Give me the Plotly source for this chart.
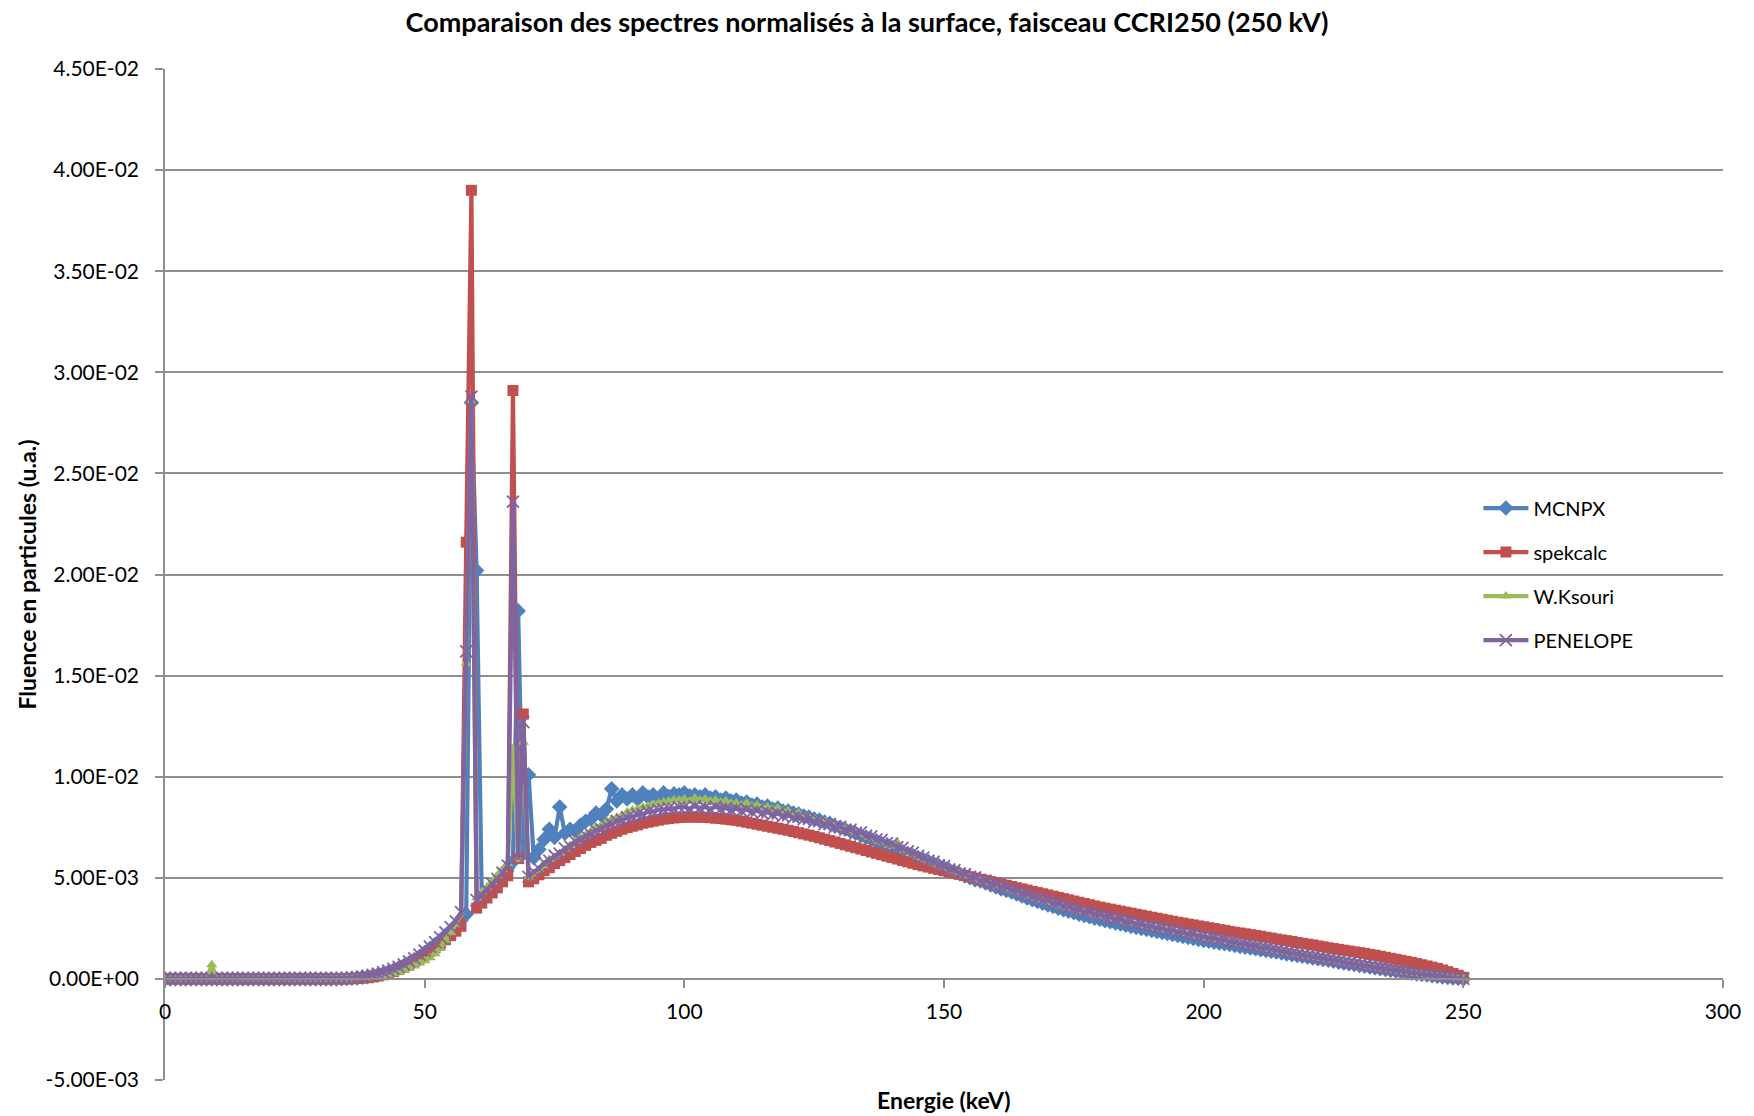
"""
Comparaison des spectres normalisés à la surface - faisceau CCRI250 (250 kV)
"""

import plotly.graph_objects as go

# Energie des canaux (keV), pas de 1 keV
energie_kev = list(range(0, 251))

# Fluence en particules (u.a.), valeurs en unités de 1E-03, lues canal par canal
mcnpx = [
    0, 0, 0, 0, 0, 0, 0, 0, 0, 0,
    0, 0, 0, 0, 0, 0, 0, 0, 0, 0,
    0, 0, 0, 0, 0, 0, 0, 0, 0, 0,
    0, 0, 0, 0, 0.01, 0.02, 0.03, 0.05, 0.08, 0.11,
    0.15, 0.2, 0.27, 0.35, 0.44, 0.55, 0.66, 0.8, 0.95, 1.1,
    1.3, 1.5, 1.7, 1.92, 2.15, 2.4, 2.65, 2.9, 3.2, 28.5,
    20.2, 3.9, 4.3, 4.6, 4.9, 5.2, 5.5, 5.8, 18.2, 6.2,
    10.1, 6.0, 6.4, 6.9, 7.4, 7.0, 8.5, 7.2, 7.4, 7.3,
    7.6, 7.8, 7.9, 8.2, 8.1, 8.4, 9.4, 8.8, 9.1, 8.9,
    9.1, 8.9, 9.2, 9.0, 9.1, 8.95, 9.2, 9.0, 9.15, 9.1,
    9.2, 9.05, 9.1, 9.0, 9.1, 8.95, 9.0, 8.85, 8.95, 8.8,
    8.85, 8.7, 8.75, 8.6, 8.65, 8.5, 8.55, 8.4, 8.45, 8.3,
    8.3, 8.2, 8.15, 8.05, 8.0, 7.9, 7.85, 7.75, 7.7, 7.55,
    7.5, 7.4, 7.3, 7.2, 7.1, 7.0, 6.9, 6.8, 6.7, 6.6,
    6.5, 6.4, 6.3, 6.2, 6.1, 6.0, 5.9, 5.8, 5.7, 5.6,
    5.5, 5.4, 5.3, 5.2, 5.1, 5.0, 4.9, 4.85, 4.75, 4.65,
    4.55, 4.45, 4.38, 4.3, 4.2, 4.1, 4.0, 3.92, 3.83, 3.75,
    3.66, 3.58, 3.5, 3.42, 3.35, 3.28, 3.2, 3.14, 3.07, 3.0,
    2.95, 2.88, 2.83, 2.77, 2.72, 2.66, 2.6, 2.55, 2.5, 2.45,
    2.4, 2.35, 2.3, 2.25, 2.2, 2.15, 2.1, 2.05, 2.0, 1.95,
    1.9, 1.86, 1.82, 1.78, 1.74, 1.7, 1.65, 1.61, 1.57, 1.53,
    1.49, 1.45, 1.41, 1.37, 1.33, 1.28, 1.24, 1.2, 1.16, 1.12,
    1.08, 1.04, 1.0, 0.96, 0.92, 0.87, 0.83, 0.79, 0.75, 0.71,
    0.67, 0.63, 0.59, 0.55, 0.51, 0.47, 0.43, 0.39, 0.35, 0.31,
    0.28, 0.25, 0.22, 0.19, 0.16, 0.13, 0.1, 0.07, 0.05, 0.03,
    0.0,
]

spekcalc = [
    0, 0, 0, 0, 0, 0, 0, 0, 0, 0,
    0, 0, 0, 0, 0, 0, 0, 0, 0, 0,
    0, 0, 0, 0, 0, 0, 0, 0, 0, 0,
    0, 0, 0, 0, 0, 0, 0.01, 0.02, 0.04, 0.06,
    0.1, 0.14, 0.2, 0.27, 0.36, 0.46, 0.58, 0.72, 0.86, 1.02,
    1.18, 1.36, 1.54, 1.74, 1.94, 2.14, 2.36, 2.6, 21.6, 39.0,
    3.5, 3.75, 4.0, 4.25, 4.5, 4.8, 5.1, 29.1, 5.95, 13.1,
    4.8, 4.95, 5.15, 5.35, 5.5, 5.7, 5.85, 6.0, 6.15, 6.3,
    6.45, 6.6, 6.75, 6.85, 6.95, 7.1, 7.2, 7.3, 7.4, 7.48,
    7.55, 7.62, 7.7, 7.75, 7.8, 7.85, 7.9, 7.93, 7.96, 7.98,
    8.0, 8.0, 8.0, 8.0, 7.99, 7.97, 7.95, 7.93, 7.9, 7.87,
    7.84, 7.8, 7.75, 7.7, 7.65, 7.6, 7.55, 7.5, 7.45, 7.4,
    7.35, 7.29, 7.23, 7.17, 7.11, 7.05, 6.98, 6.91, 6.84, 6.77,
    6.7, 6.63, 6.56, 6.49, 6.42, 6.35, 6.28, 6.21, 6.14, 6.07,
    6.0, 5.93, 5.86, 5.79, 5.72, 5.65, 5.59, 5.53, 5.47, 5.41,
    5.35, 5.29, 5.23, 5.17, 5.11, 5.05, 4.99, 4.93, 4.87, 4.81,
    4.75, 4.69, 4.63, 4.57, 4.51, 4.45, 4.39, 4.33, 4.27, 4.21,
    4.15, 4.09, 4.03, 3.97, 3.91, 3.85, 3.79, 3.73, 3.67, 3.61,
    3.55, 3.5, 3.45, 3.4, 3.35, 3.3, 3.25, 3.2, 3.15, 3.1,
    3.05, 3.0, 2.95, 2.9, 2.85, 2.8, 2.76, 2.71, 2.67, 2.62,
    2.58, 2.53, 2.49, 2.44, 2.4, 2.35, 2.31, 2.27, 2.23, 2.19,
    2.15, 2.11, 2.06, 2.02, 1.97, 1.93, 1.89, 1.85, 1.8, 1.76,
    1.72, 1.68, 1.63, 1.59, 1.54, 1.5, 1.46, 1.42, 1.38, 1.34,
    1.3, 1.26, 1.21, 1.17, 1.12, 1.07, 1.02, 0.97, 0.92, 0.87,
    0.82, 0.76, 0.7, 0.64, 0.58, 0.52, 0.44, 0.36, 0.27, 0.18,
    0.08,
]

w_ksouri = [
    0, 0, 0, 0, 0, 0, 0, 0, 0, 0.7,
    0, 0, 0, 0, 0, 0, 0, 0, 0, 0,
    0, 0, 0, 0, 0, 0, 0, 0, 0, 0,
    0, 0, 0, 0, 0, 0, 0, 0.01, 0.03, 0.05,
    0.08, 0.11, 0.15, 0.2, 0.26, 0.33, 0.42, 0.52, 0.64, 0.77,
    0.9, 1.05, 1.25, 1.5, 1.9, 2.3, 2.7, 3.2, 15.6, 28.6,
    4.0, 4.3, 4.55, 4.8, 5.1, 5.4, 5.7, 11.4, 5.9, 11.7,
    5.0, 5.2, 5.4, 5.6, 5.9, 6.0, 6.2, 6.4, 6.6, 6.8,
    7.0, 7.1, 7.3, 7.5, 7.6, 7.8, 7.9, 8.0, 8.1, 8.25,
    8.35, 8.4, 8.5, 8.55, 8.65, 8.7, 8.75, 8.8, 8.85, 8.85,
    8.9, 8.8, 8.95, 8.85, 8.9, 8.8, 8.85, 8.75, 8.8, 8.7,
    8.7, 8.6, 8.7, 8.55, 8.6, 8.45, 8.5, 8.4, 8.45, 8.3,
    8.3, 8.15, 8.2, 8.05, 8.0, 7.95, 7.8, 7.85, 7.65, 7.6,
    7.45, 7.5, 7.3, 7.2, 7.15, 7.0, 6.95, 6.8, 6.75, 6.6,
    6.55, 6.75, 6.35, 6.2, 6.15, 6.0, 5.9, 5.85, 5.7, 5.65,
    5.5, 5.45, 5.3, 5.25, 5.1, 5.05, 4.95, 4.85, 4.8, 4.7,
    4.6, 4.55, 4.45, 4.35, 4.3, 4.2, 4.1, 4.05, 3.95, 3.85,
    3.78, 3.7, 3.62, 3.55, 3.48, 3.42, 3.34, 3.28, 3.22, 3.15,
    3.1, 3.03, 2.98, 2.92, 2.86, 2.8, 2.75, 2.7, 2.64, 2.59,
    2.54, 2.49, 2.44, 2.39, 2.34, 2.29, 2.24, 2.19, 2.14, 2.09,
    2.04, 1.99, 1.94, 1.9, 1.85, 1.8, 1.75, 1.71, 1.66, 1.61,
    1.56, 1.52, 1.47, 1.43, 1.38, 1.34, 1.29, 1.25, 1.2, 1.16,
    1.12, 1.07, 1.03, 0.99, 0.94, 0.9, 0.86, 0.81, 0.77, 0.73,
    0.69, 0.65, 0.61, 0.57, 0.53, 0.49, 0.45, 0.41, 0.37, 0.34,
    0.3, 0.27, 0.24, 0.21, 0.18, 0.15, 0.12, 0.09, 0.06, 0.04,
    0.01,
]

penelope = [
    0, 0, 0, 0, 0, 0, 0, 0, 0, 0,
    0, 0, 0, 0, 0, 0, 0, 0, 0, 0,
    0, 0, 0, 0, 0, 0, 0, 0, 0, 0,
    0, 0, 0, 0.01, 0.02, 0.03, 0.05, 0.08, 0.11, 0.15,
    0.2, 0.26, 0.33, 0.41, 0.5, 0.6, 0.72, 0.86, 1.02, 1.2,
    1.4, 1.6, 1.82, 2.05, 2.3, 2.56, 2.84, 3.3, 16.2, 28.8,
    3.9, 4.15, 4.4, 4.7, 4.95, 5.25, 5.6, 23.6, 6.0, 12.7,
    5.05, 5.3, 5.45, 5.75, 5.85, 6.1, 6.2, 6.45, 6.55, 6.8,
    6.85, 7.1, 7.15, 7.35, 7.4, 7.6, 7.65, 7.8, 7.85, 7.98,
    8.02, 8.12, 8.15, 8.26, 8.28, 8.36, 8.38, 8.44, 8.42, 8.5,
    8.5, 8.42, 8.55, 8.45, 8.5, 8.4, 8.52, 8.4, 8.45, 8.35,
    8.42, 8.3, 8.38, 8.25, 8.32, 8.2, 8.25, 8.12, 8.18, 8.05,
    8.1, 7.98, 8.02, 7.9, 7.92, 7.78, 7.8, 7.65, 7.66, 7.52,
    7.52, 7.38, 7.38, 7.22, 7.25, 7.08, 7.05, 6.9, 6.88, 6.72,
    6.7, 6.52, 6.48, 6.3, 6.25, 6.08, 6.0, 5.85, 5.8, 5.62,
    5.58, 5.42, 5.38, 5.22, 5.18, 5.05, 5.02, 4.88, 4.86, 4.72,
    4.7, 4.56, 4.54, 4.4, 4.36, 4.24, 4.2, 4.08, 4.02, 3.9,
    3.88, 3.76, 3.72, 3.6, 3.56, 3.46, 3.42, 3.32, 3.3, 3.2,
    3.18, 3.08, 3.06, 2.96, 2.94, 2.84, 2.82, 2.72, 2.7, 2.62,
    2.6, 2.52, 2.5, 2.42, 2.4, 2.32, 2.3, 2.22, 2.2, 2.12,
    2.1, 2.03, 2.01, 1.94, 1.92, 1.84, 1.82, 1.75, 1.72, 1.65,
    1.62, 1.55, 1.52, 1.46, 1.42, 1.36, 1.32, 1.27, 1.23, 1.18,
    1.14, 1.09, 1.05, 1.0, 0.96, 0.91, 0.87, 0.82, 0.78, 0.73,
    0.69, 0.65, 0.61, 0.57, 0.53, 0.49, 0.45, 0.41, 0.37, 0.33,
    0.3, 0.27, 0.24, 0.21, 0.18, 0.15, 0.12, 0.09, 0.06, 0.03,
    0.0,
]

# Graduations de l'axe des ordonnées (unités 1E-03) et leurs libellés
y_ticks = [-5, 0, 5, 10, 15, 20, 25, 30, 35, 40, 45]
y_tick_labels = ['-5.00E-03', '0.00E+00', '5.00E-03', '1.00E-02', '1.50E-02',
                 '2.00E-02', '2.50E-02', '3.00E-02', '3.50E-02', '4.00E-02', '4.50E-02']
x_ticks = [0, 50, 100, 150, 200, 250, 300]


def create_spectra_chart():
    """Courbes des quatre spectres normalisés"""

    font_family = 'Lato, "Open Sans", sans-serif'
    grid_color = '#8e8e8e'

    series = [
        ('MCNPX', mcnpx, '#4F81BD', 'diamond', 12),
        ('spekcalc', spekcalc, '#C0504D', 'square', 11),
        ('W.Ksouri', w_ksouri, '#9BBB59', 'triangle-up', 10),
        ('PENELOPE', penelope, '#8064A2', 'x-thin', 12),
    ]

    fig = go.Figure()

    for name, values, color, symbol, size in series:
        marker = dict(symbol=symbol, size=size, color=color)
        if symbol == 'x-thin':
            marker['line'] = dict(color=color, width=1.8)
        fig.add_trace(
            go.Scatter(
                x=energie_kev,
                y=values,
                mode='lines+markers',
                name=name,
                legendgroup=name,
                line=dict(color=color, width=4.2),
                marker=marker
            )
        )

    # page body has an 8px margin, so the figure is 8px smaller than the window
    plot_h = 1011

    fig.update_layout(
        width=1746,
        height=1108,
        paper_bgcolor='white',
        plot_bgcolor='white',
        font=dict(family=font_family, size=20, color='#000000'),
        margin=dict(l=157, r=31, t=61, b=36),
        title=dict(
            text='<b>Comparaison des spectres normalisés à la surface, faisceau CCRI250 (250 kV)</b>',
            x=0.492,
            xref='container',
            xanchor='center',
            y=1 - 15 / 1108,
            yref='container',
            yanchor='middle',
            font=dict(size=27)
        ),
        showlegend=True,
        legend=dict(
            x=0.843,
            y=0.585,
            xanchor='left',
            yanchor='top',
            traceorder='grouped',
            tracegroupgap=15,
            itemwidth=45,
            bgcolor='rgba(0,0,0,0)',
            font=dict(size=20)
        ),
        annotations=[
            dict(
                text='<b>Energie (keV)</b>',
                x=0.5, xref='paper',
                y=-20 / plot_h, yref='paper',
                xanchor='center',
                yanchor='middle',
                showarrow=False,
                font=dict(size=23)
            ),
            dict(
                text='<b>Fluence en particules (u.a.)</b>',
                x=-0.0886, xref='paper',
                y=0.5, yref='paper',
                textangle=-90,
                showarrow=False,
                xanchor='center',
                yanchor='middle',
                font=dict(size=23)
            )
        ]
    )

    # Axe des abscisses croisant l'ordonnée à 0 (position relative dans le domaine y)
    fig.update_xaxes(
        range=[0, 300],
        tickvals=x_ticks,
        ticks='outside',
        ticklen=8,
        tickcolor=grid_color,
        tickwidth=1.5,
        showline=True,
        linecolor=grid_color,
        linewidth=1.5,
        showgrid=False,
        zeroline=False,
        anchor='free',
        position=(0 - y_ticks[0]) / (y_ticks[-1] - y_ticks[0]),
        ticklabelstandoff=6,
        tickfont=dict(size=21)
    )

    fig.update_yaxes(
        range=[y_ticks[0], y_ticks[-1]],
        tickvals=y_ticks,
        ticktext=y_tick_labels,
        ticks='outside',
        ticklen=8,
        tickcolor=grid_color,
        tickwidth=1.5,
        showline=True,
        linecolor=grid_color,
        linewidth=1.5,
        showgrid=True,
        gridcolor=grid_color,
        gridwidth=1.5,
        zeroline=False,
        ticklabelstandoff=12,
        tickfont=dict(size=21)
    )

    return fig


if __name__ == "__main__":
    fig = create_spectra_chart()
    fig.write_html("out.html")
